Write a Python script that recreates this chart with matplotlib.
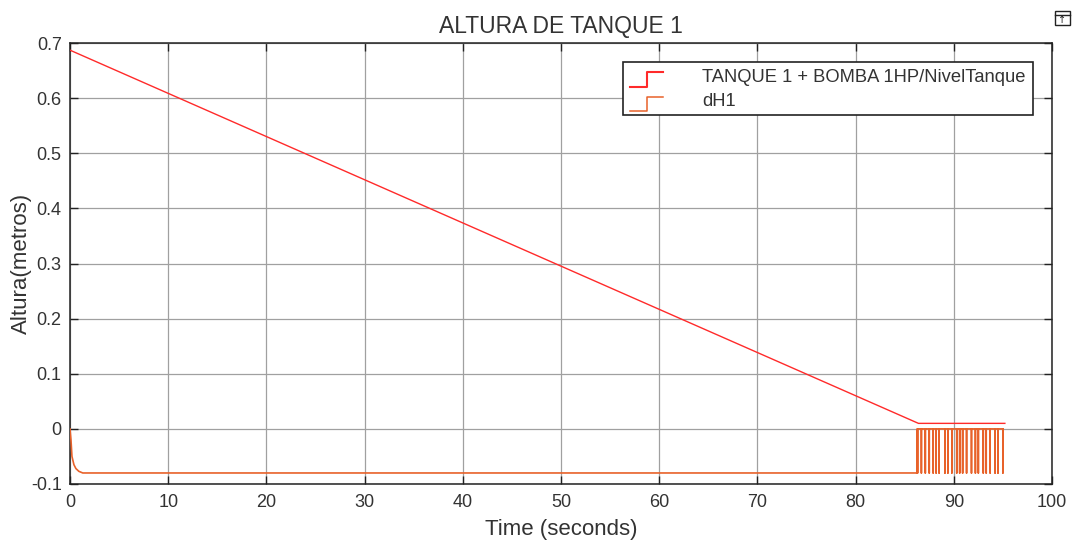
"""ALTURA DE TANQUE 1: tank level and dH1 scope traces."""
import matplotlib

matplotlib.use("Agg")
import matplotlib.pyplot as plt
from matplotlib.lines import Line2D

plt.rcParams["font.family"] = ["Liberation Sans", "DejaVu Sans"]

TITLE = "ALTURA DE TANQUE 1"
XLABEL = "Time (seconds)"
YLABEL = "Altura(metros)"
LEVEL_LABEL = "TANQUE 1 + BOMBA 1HP/NivelTanque"
DH_LABEL = "dH1"

XTICKS = [0, 10, 20, 30, 40, 50, 60, 70, 80, 90, 100]
YTICKS = [-0.1, 0, 0.1, 0.2, 0.3, 0.4, 0.5, 0.6, 0.7]
YTICK_LABELS = ["-0.1", "0", "0.1", "0.2", "0.3", "0.4", "0.5", "0.6", "0.7"]

level_t = [0, 86.4, 95.2]
level_h = [0.687, 0.01, 0.01]

dh_start_t = [0, 0.1, 0.2, 0.4, 0.6, 0.9, 1.3, 86.3]
dh_start_v = [0, -0.02, -0.05, -0.065, -0.072, -0.077, -0.08, -0.08]

# times where dH1 drops to -0.08 and comes back to 0
comb_t = [86.3, 86.7, 87.1, 87.5, 87.9, 88.2, 88.5, 89.1, 89.4, 89.8, 90.3, 90.6,
          90.9, 91.3, 91.8, 92.2, 92.5, 93.0, 93.3, 93.7, 94.2, 94.5, 95.0]

dh_t = list(dh_start_t)
dh_v = list(dh_start_v)
for t in comb_t:
    dh_t += [t, t, t]
    dh_v += [0, -0.08, 0]

LEVEL_COLOR = "#ff2a2a"
DH_COLOR = "#e8622a"
GRID_COLOR = "#a0a0a0"
AXIS_COLOR = "#222222"
TEXT_COLOR = "#333333"


def main():
    fig = plt.figure(figsize=(10.75, 5.40), dpi=100)
    ax = fig.add_axes([70 / 1075, 1 - 484 / 540, 982 / 1075, 441 / 540])

    ax.plot(level_t, level_h, color=LEVEL_COLOR, lw=1.0, zorder=3)
    ax.plot(dh_t, dh_v, color=DH_COLOR, lw=1.2, zorder=4, snap=False)

    ax.set_xlim(0, 100)
    ax.set_ylim(-0.1, 0.7)
    ax.set_xticks(XTICKS)
    ax.set_yticks(YTICKS)
    ax.set_yticklabels(YTICK_LABELS)
    ax.grid(True, color=GRID_COLOR, lw=0.9)
    ax.set_axisbelow(True)
    ax.tick_params(direction="in", length=6, width=1.0, colors=AXIS_COLOR,
                   labelcolor=TEXT_COLOR, labelsize=13, top=True, right=True)
    ax.tick_params(axis="x", pad=7)
    ax.tick_params(axis="y", pad=6)
    for spine in ax.spines.values():
        spine.set_color(AXIS_COLOR)
        spine.set_linewidth(1.1)

    ax.set_title(TITLE, fontsize=16.5, color=TEXT_COLOR, pad=7)
    ax.set_xlabel(XLABEL, fontsize=16, color=TEXT_COLOR, labelpad=6)
    ax.set_ylabel(YLABEL, fontsize=16, color=TEXT_COLOR, labelpad=-1)

    # legend box drawn in axes coordinates so its frame matches the scope's
    legend_box = plt.Rectangle(
        ((623 - 70) / 982, (484 - 115) / 441), (1033 - 623) / 982, (115 - 62) / 441,
        transform=ax.transAxes, facecolor="white", edgecolor=AXIS_COLOR, lw=1.2, zorder=6)
    ax.add_patch(legend_box)
    for color, lw, label, y0, y1, ty in [
        (LEVEL_COLOR, 1.5, LEVEL_LABEL, 86.5, 72, 78),
        (DH_COLOR, 1.1, DH_LABEL, 110.5, 96.5, 101),
    ]:
        xs = [(p - 70) / 982 for p in (630, 647, 647, 663)]
        ys = [(484 - p) / 441 for p in (y0, y0, y1, y1)]
        ax.add_line(Line2D(xs, ys, transform=ax.transAxes, color=color, lw=lw, zorder=7))
        ax.text((702 - 70) / 982, (484 - ty) / 441, label, transform=ax.transAxes,
                fontsize=13.2, color=TEXT_COLOR, va="center", ha="left", zorder=7)

    # small "dock" icon at the top right of the scope window
    fig.patches.append(plt.Rectangle((1055 / 1075, 1 - 25 / 540), 15 / 1075, 14 / 540,
                                     transform=fig.transFigure, facecolor="white",
                                     edgecolor=AXIS_COLOR, lw=1.0))
    fig.lines.append(Line2D([1055 / 1075, 1070 / 1075], [1 - 15 / 540, 1 - 15 / 540],
                            transform=fig.transFigure, color=AXIS_COLOR, lw=1.0))
    fig.text(1062.5 / 1075, 1 - 20 / 540, "↑", fontsize=7, ha="center", va="center",
             color=AXIS_COLOR, family=["DejaVu Sans"])

    fig.savefig("out.png", dpi=100)
    plt.close(fig)


if __name__ == "__main__":
    main()
